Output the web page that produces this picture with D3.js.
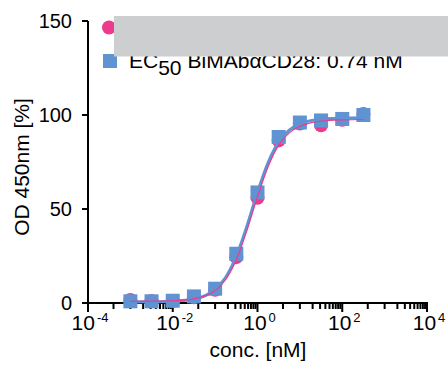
<!DOCTYPE html>
<html>
<head>
<meta charset="utf-8">
<script src="https://cdn.jsdelivr.net/npm/d3@7"></script>
<style>
  body { margin: 0; background: white; }
  svg { display: block; font-family: "Liberation Sans", Arial, sans-serif; }
</style>
</head>
<body>
<div id="chart"></div>
<script>
// concentrations (nM) of the dilution series
const conc = [0.001, 0.00316, 0.01, 0.0316, 0.1, 0.316, 1, 3.16, 10, 31.6, 100, 316];
// measured OD 450nm [%]
const pinkValues = [1.6, 1.0, 1.0, 3.0, 7.0, 24.4, 56.0, 86.5, 95.5, 94.5, 97.5, 100.5];
const blueValues = [0.9, 0.9, 1.2, 3.5, 7.6, 26.2, 58.8, 88.3, 96.0, 97.1, 97.9, 100.0];

// fitted curves at these concentrations
const curveConc = [0.001, 0.00316, 0.01, 0.0316, 0.1, 0.178, 0.316, 0.562, 1, 1.78, 3.16, 5.62, 10, 17.8, 31.6, 100, 316];
const pinkCurve = [0.9, 1.0, 1.2, 2.2, 6.5, 12.5, 23.0, 38.5, 56.5, 72.5, 84.0, 90.5, 94.0, 95.8, 96.7, 97.4, 97.6];
const blueCurve = [0.5, 0.6, 0.9, 2.1, 7.3, 13.7, 24.8, 40.8, 58.9, 74.7, 85.6, 91.9, 95.3, 97.0, 97.8, 98.3, 98.5];

const yTicks = [0, 50, 100, 150];
const xMajor = [1e-4, 1e-2, 1e0, 1e2, 1e4];

const legendLabel = "BiMAbαCD28: 0.74 nM";

const width = 448, height = 372;
const pink = "#ee3a8c", blue = "#5f93d2";

const svg = d3.select("#chart").append("svg")
    .attr("width", width).attr("height", height);

const x = d3.scaleLog().domain([1e-4, 1e4]).range([88, 427]);
const y = d3.scaleLinear().domain([0, 150]).range([303, 21]);

// minor log ticks: 4 x 10^(2n), and 1..9 x 10^(2n+1)
const minor = [];
for (let e = -4; e < 4; e += 2) {
    minor.push(4 * Math.pow(10, e));
    for (let k = 1; k <= 9; k++) minor.push(k * Math.pow(10, e + 1));
}

const axes = svg.append("g").attr("stroke", "#000").attr("stroke-width", 2);
axes.append("line").attr("x1", 88).attr("x2", 88).attr("y1", y(150)).attr("y2", y(0) + 1);
axes.append("line").attr("x1", 82).attr("x2", 428).attr("y1", y(0)).attr("y2", y(0));
axes.selectAll(".yt").data(yTicks).join("line")
    .attr("x1", 82).attr("x2", 88).attr("y1", d => y(d)).attr("y2", d => y(d));
axes.selectAll(".xm").data(xMajor).join("line")
    .attr("x1", d => x(d)).attr("x2", d => x(d)).attr("y1", y(0)).attr("y2", y(0) + 9);
axes.selectAll(".xn").data(minor).join("line")
    .attr("x1", d => x(d)).attr("x2", d => x(d)).attr("y1", y(0)).attr("y2", y(0) + 6);

svg.append("g").selectAll("text").data(yTicks).join("text")
    .attr("x", 72).attr("y", d => y(d)).attr("dy", "0.36em")
    .attr("text-anchor", "end").attr("font-size", 20)
    .text(d => d);

const expo = d => Math.round(Math.log10(d));
const xl = svg.append("g").selectAll("text").data(xMajor).join("text")
    .attr("x", d => x(d) + 2).attr("y", 330)
    .attr("text-anchor", "middle").attr("font-size", 21);
xl.append("tspan").text("10");
xl.append("tspan").attr("dx", 2).attr("dy", -8).attr("font-size", 13)
    .text(d => expo(d) < 0 ? "-" + Math.abs(expo(d)) : expo(d));

svg.append("text").attr("x", 258).attr("y", 357)
    .attr("text-anchor", "middle").attr("font-size", 21)
    .text("conc. [nM]");

svg.append("text")
    .attr("transform", "translate(29,167) rotate(-90)")
    .attr("text-anchor", "middle").attr("font-size", 21)
    .text("OD 450nm [%]");

// markers and fits
const line = d3.line().x(d => x(d[0])).y(d => y(d[1])).curve(d3.curveMonotoneX);

svg.append("g").selectAll("circle").data(d3.zip(conc, pinkValues)).join("circle")
    .attr("cx", d => x(d[0])).attr("cy", d => y(d[1])).attr("r", 7)
    .attr("fill", pink);
svg.append("g").selectAll("rect").data(d3.zip(conc, blueValues)).join("rect")
    .attr("x", d => x(d[0]) - 7).attr("y", d => y(d[1]) - 7)
    .attr("width", 14).attr("height", 14)
    .attr("fill", blue);
svg.append("path").datum(d3.zip(curveConc, blueCurve))
    .attr("d", line).attr("fill", "none").attr("stroke", blue).attr("stroke-width", 3);
svg.append("path").datum(d3.zip(curveConc, pinkCurve))
    .attr("d", line).attr("fill", "none").attr("stroke", pink).attr("stroke-width", 1.2);

// legend
svg.append("circle").attr("cx", 109).attr("cy", 27.5).attr("r", 7).attr("fill", pink);
svg.append("rect").attr("x", 103).attr("y", 54).attr("width", 14).attr("height", 14).attr("fill", blue);
const lt = svg.append("text").attr("x", 129).attr("y", 68).attr("font-size", 21);
lt.append("tspan").text("EC");
lt.append("tspan").attr("dy", 7).text("50");
lt.append("tspan").attr("dx", 6).attr("dy", -7).text(legendLabel);

svg.append("rect").attr("x", 114).attr("y", 16).attr("width", 334).attr("height", 40.5)
    .attr("fill", "#cdcecf");
</script>
</body>
</html>
